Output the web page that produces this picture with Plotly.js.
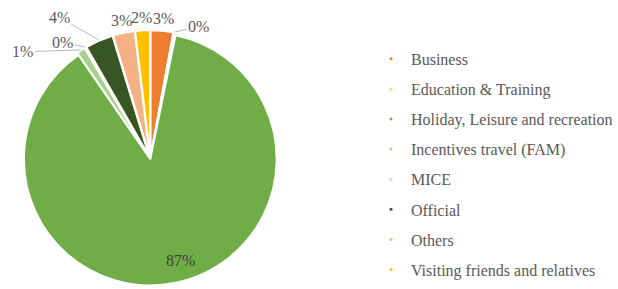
<!DOCTYPE html>
<html>
<head>
<meta charset="utf-8">
<script src="https://cdn.plot.ly/plotly-3.0.1.min.js"></script>
<style>html,body{margin:0;padding:0;background:#fff}#chart{width:618px;height:289px}</style>
</head>
<body>
<div id="chart"></div>
<script>
var categories = ["Business", "Education & Training", "Holiday, Leisure and recreation", "Incentives travel (FAM)", "MICE", "Official", "Others", "Visiting friends and relatives"];
var values = [2.9, 0.3, 87.2, 1.1, 0.2, 3.6, 2.8, 1.9];
var colors = ["#ED7D31", "#FFD966", "#70AD47", "#A9D18E", "#C5E0B4", "#375623", "#F4B183", "#FFC000"];

var W = 618, H = 289;
var dom = {x: [0.0348, 0.4539], y: [0.0017, 0.898]};
var maxPull = 0.02;
var pulls = values.map(function (v, i) { return i === 2 ? 0 : maxPull; });
// label placement (layout only): null = radial label, [ax, ay] = pixel offset with leader line, "inside" = inside label
var leader = [null, [24, -5], "inside", [-58, 2], [-23, -5], [-40, -23], null, null];

var total = values.reduce(function (a, b) { return a + b; }, 0);
var pct = values.map(function (v) { return Math.round(v / total * 100) + "%"; });

var traces = [{
  type: "pie",
  labels: categories,
  values: values,
  sort: false,
  direction: "clockwise",
  rotation: 0,
  pull: pulls,
  marker: {colors: colors, line: {color: "#ffffff", width: 2}},
  textinfo: "none",
  showlegend: false,
  hoverinfo: "label+percent",
  domain: dom
}];

categories.forEach(function (c, i) {
  traces.push({
    type: "scatter", mode: "markers", x: [null], y: [null],
    name: c, legendgroup: "g" + i,
    marker: {color: colors[i], size: 3},
    hoverinfo: "skip"
  });
});

// pie geometry (pixels) derived from the domain
var cx = (dom.x[0] + dom.x[1]) / 2 * W;
var cy = (1 - (dom.y[0] + dom.y[1]) / 2) * H;
var half = Math.min((dom.x[1] - dom.x[0]) * W, (dom.y[1] - dom.y[0]) * H) / 2;
var r = half / (1 + maxPull);

var labelFont = {family: "Liberation Serif", size: 16, color: "#595959"};
var annotations = [];
var cum = 0;
values.forEach(function (v, i) {
  var mid = (cum + v / 2) / total * 2 * Math.PI;
  cum += v;
  if (leader[i] === "inside") {
    annotations.push({
      xref: "paper", yref: "paper", x: 0.294, y: 0.10,
      xanchor: "center", yanchor: "middle",
      text: pct[i], showarrow: false,
      font: {family: "Liberation Serif", size: 16, color: "#404040"}
    });
  } else if (leader[i]) {
    var re = r * (1 + pulls[i]);
    annotations.push({
      xref: "paper", yref: "paper",
      x: (cx + re * Math.sin(mid)) / W, y: 1 - (cy - re * Math.cos(mid)) / H,
      ax: leader[i][0], ay: leader[i][1],
      text: pct[i], showarrow: true, arrowhead: 0, arrowwidth: 0.8,
      arrowcolor: "#A6A6A6", standoff: 0,
      font: labelFont
    });
  } else {
    var rl = r * 1.115;
    annotations.push({
      xref: "paper", yref: "paper",
      x: (cx + rl * Math.sin(mid)) / W, y: 1 - (cy - rl * Math.cos(mid)) / H,
      xanchor: "center", yanchor: "middle",
      text: pct[i], showarrow: false, font: labelFont
    });
  }
});

var layout = {
  width: W, height: H,
  margin: {l: 0, r: 0, t: 0, b: 0},
  paper_bgcolor: "#ffffff", plot_bgcolor: "#ffffff",
  xaxis: {visible: false}, yaxis: {visible: false},
  showlegend: true,
  legend: {
    x: 0.6036, y: 0.855, xanchor: "left", yanchor: "top",
    font: {family: "Liberation Serif", size: 16, color: "#595959"},
    tracegroupgap: 6.3, itemwidth: 30,
    bgcolor: "rgba(0,0,0,0)"
  },
  annotations: annotations
};

Plotly.newPlot("chart", traces, layout, {displayModeBar: false, staticPlot: true});
</script>
</body>
</html>
